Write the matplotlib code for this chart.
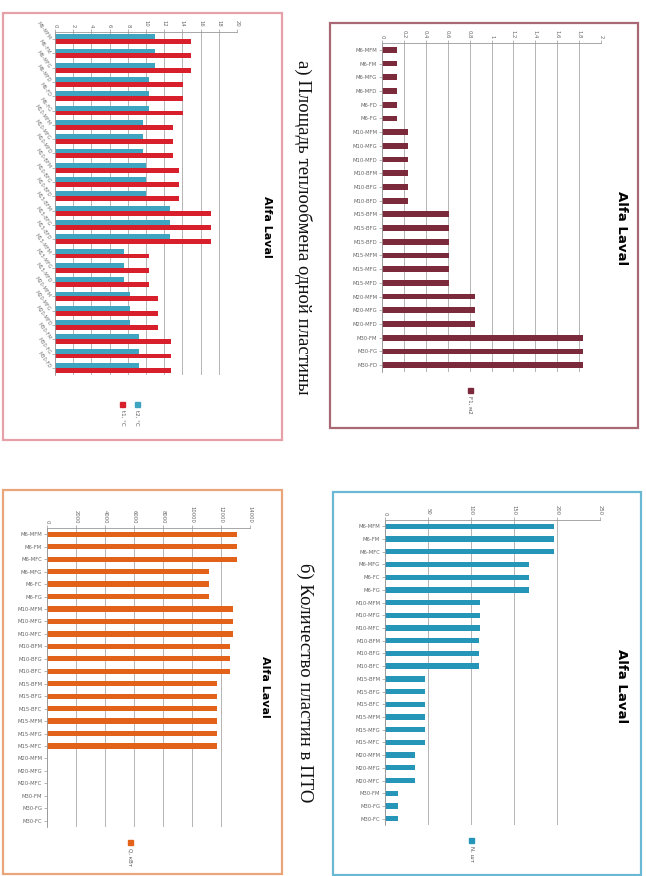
import matplotlib
matplotlib.use("Agg")
import matplotlib.pyplot as plt
from matplotlib.patches import Rectangle
import numpy as np

# categories (two spellings used in the source charts)
models_d = ["M6-MFM", "M6-FM", "M6-MFG", "M6-MFD", "M6-FD", "M6-FG",
            "M10-MFM", "M10-MFG", "M10-MFD", "M10-BFM", "M10-BFG", "M10-BFD",
            "M15-BFM", "M15-BFG", "M15-BFD", "M15-MFM", "M15-MFG", "M15-MFD",
            "M20-MFM", "M20-MFG", "M20-MFD", "M30-FM", "M30-FG", "M30-FD"]
models_c = ["M6-MFM", "M6-FM", "M6-MFC", "M6-MFG", "M6-FC", "M6-FG",
            "M10-MFM", "M10-MFG", "M10-MFC", "M10-BFM", "M10-BFG", "M10-BFC",
            "M15-BFM", "M15-BFG", "M15-BFC", "M15-MFM", "M15-MFG", "M15-MFC",
            "M20-MFM", "M20-MFG", "M20-MFC", "M30-FM", "M30-FG", "M30-FC"]

# plate area, m2
area = [0.14, 0.14, 0.14, 0.14, 0.14, 0.14,
        0.24, 0.24, 0.24, 0.24, 0.24, 0.24,
        0.61, 0.61, 0.61, 0.61, 0.61, 0.61,
        0.85, 0.85, 0.85, 1.84, 1.84, 1.84]
# temperatures (red / blue series)
t_red = [14.9, 14.9, 14.9, 14.1, 14.1, 14.1,
         13.0, 13.0, 13.0, 13.6, 13.6, 13.6,
         17.1, 17.1, 17.1, 10.3, 10.3, 10.3,
         11.3, 11.3, 11.3, 12.7, 12.7, 12.7]
t_blue = [11.0, 11.0, 11.0, 10.35, 10.35, 10.35,
          9.7, 9.7, 9.7, 10.05, 10.05, 10.05,
          12.6, 12.6, 12.6, 7.6, 7.6, 7.6,
          8.2, 8.2, 8.2, 9.25, 9.25, 9.25]
# number of plates
plates = [196, 196, 196, 167, 167, 167,
          110, 110, 110, 109, 109, 109,
          47, 47, 47, 47, 47, 47,
          35, 35, 35, 15, 15, 15]
# heat load
q_load = [13100, 13100, 13100, 11200, 11200, 11200,
          12850, 12850, 12850, 12600, 12600, 12600,
          11700, 11700, 11700, 11700, 11700, 11700,
          0, 0, 0, 0, 0, 0]

area_ticks = [0, 0.2, 0.4, 0.6, 0.8, 1, 1.2, 1.4, 1.6, 1.8, 2]
t_ticks = [0, 2, 4, 6, 8, 10, 12, 14, 16, 18, 20]
plate_ticks = [0, 50, 100, 150, 200, 250]
q_ticks = [0, 2000, 4000, 6000, 8000, 10000, 12000, 14000]

W, H = 646, 876
fig = plt.figure(figsize=(W / 100, H / 100), dpi=100)
fig.patch.set_facecolor("white")


def box(l, t, r, b):
    return [l / W, 1 - b / H, (r - l) / W, (b - t) / H]


def frame(l, t, r, b, color):
    fig.patches.append(Rectangle((l / W, 1 - b / H), (r - l) / W, (b - t) / H,
                                 transform=fig.transFigure, fill=False,
                                 edgecolor=color, linewidth=1.6))


def ftext(x, y, s, **kw):
    fig.text(x / W, 1 - y / H, s, rotation=-90, ha="center", va="center", **kw)


def legend_item(x, y, color, label):
    fig.patches.append(Rectangle(((x - 2.5) / W, 1 - (y + 2.5) / H), 5 / W, 5 / H,
                                 transform=fig.transFigure, color=color))
    fig.text(x / W, 1 - (y + 6) / H, label, rotation=-90, ha="center", va="top",
             fontsize=4, color="#555555")


def setup(ax, labels, ticks, fmt, lim, lab_rot=0):
    n = len(labels)
    ax.set_ylim(n - 0.5, -0.5)
    ax.set_xlim(*lim)
    ax.xaxis.tick_top()
    ax.set_xticks(ticks)
    ax.set_xticklabels([fmt(v) for v in ticks], rotation=-90, fontsize=3.8,
                       color="#666666")
    ax.set_yticks(np.arange(n))
    if lab_rot:
        ax.set_yticklabels(labels, fontsize=3.6, color="#777777",
                           rotation=lab_rot, rotation_mode="anchor", ha="right")
    else:
        ax.set_yticklabels(labels, fontsize=3.8, color="#666666")
    ax.tick_params(length=2, width=0.5, color="#999999", pad=1.5)
    ax.grid(axis="x", color="#a8a8a8", linewidth=0.6)
    ax.set_axisbelow(True)
    for s in ["right", "bottom"]:
        ax.spines[s].set_visible(False)
    for s in ["left", "top"]:
        ax.spines[s].set_color("#999999")
        ax.spines[s].set_linewidth(0.6)


def comma(v):
    return ("%g" % v).replace(".", ",")


# top right: plate area
frame(330, 23, 638, 428, "#a86874")
ax1 = fig.add_axes(box(382, 43, 601, 372))
y = np.arange(len(models_d))
ax1.barh(y, area, height=0.42, color="#7b2a3c")
setup(ax1, models_d, area_ticks, comma, (0, 2))
ftext(622, 228, "Alfa Laval", fontsize=9.5, fontweight="bold")
legend_item(470, 390, "#7b2a3c", "F1, м2")

# top left: temperatures
frame(3, 13, 282, 440, "#e6a0a8")
ax2 = fig.add_axes(box(55, 32, 237, 375))
ax2.barh(y - 0.17, t_blue, height=0.34, color="#3ea4bf")
ax2.barh(y + 0.17, t_red, height=0.34, color="#d8202c")
setup(ax2, models_d, t_ticks, comma, (0, 20), lab_rot=-55)
ftext(267, 227, "Alfa Laval", fontsize=8, fontweight="bold")
legend_item(123, 404, "#d8202c", "t1, °C")
legend_item(137, 404, "#3ea4bf", "t2, °C")

ftext(303, 227, "а) Площадь теплообмена одной пластины",
      fontsize=13.5, family="Liberation Serif", color="#111111")

# bottom right: number of plates
frame(333, 492, 641, 875, "#6ab8d4")
ax3 = fig.add_axes(box(385, 520, 600, 825))
ax3.barh(y, plates, height=0.42, color="#2596b8")
setup(ax3, models_c, plate_ticks, comma, (0, 250))
ftext(622, 686, "Alfa Laval", fontsize=9.5, fontweight="bold")
legend_item(472, 840, "#2596b8", "N, шт")

# bottom left: heat load
frame(3, 490, 282, 874, "#eba57a")
ax4 = fig.add_axes(box(47, 528, 250, 827))
ax4.barh(y, q_load, height=0.42, color="#e2621a")
setup(ax4, models_c, q_ticks, comma, (0, 14000))
ftext(265, 687, "Alfa Laval", fontsize=8, fontweight="bold")
legend_item(130, 842, "#e2621a", "Q, кВт")

ftext(305, 683, "б) Количество пластин в ПТО",
      fontsize=13.5, family="Liberation Serif", color="#111111")

fig.savefig("out.png", dpi=100)
